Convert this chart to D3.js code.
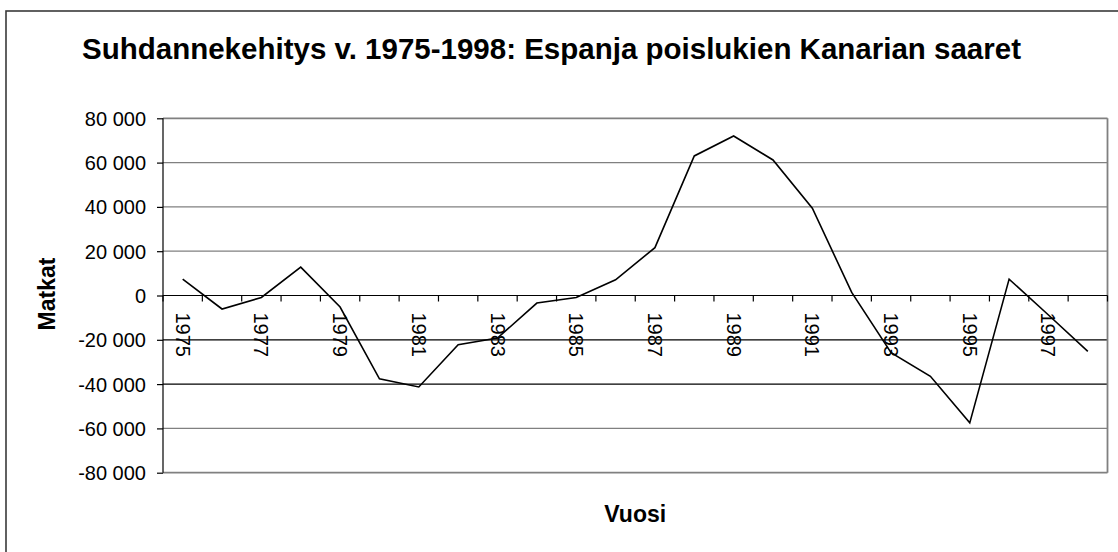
<!DOCTYPE html>
<html>
<head>
<meta charset="utf-8">
<script src="https://cdn.jsdelivr.net/npm/d3@7"></script>
<style>
  html, body { margin: 0; padding: 0; background: #fff; }
  svg { display: block; font-family: "Liberation Sans", Arial, sans-serif; }
</style>
</head>
<body>
<svg id="chart" width="1118" height="552"></svg>
<script>
const years = ["1975","1976","1977","1978","1979","1980","1981","1982","1983","1984","1985","1986",
               "1987","1988","1989","1990","1991","1992","1993","1994","1995","1996","1997","1998"];
const values = [7400, -6100, -900, 12800, -5200, -37600, -41300, -22200, -19200, -3400, -900, 7100,
                21600, 63000, 72000, 61200, 39400, 1400, -25800, -36500, -57500, 7400, -8800, -25200];
const yTicks = [80000, 60000, 40000, 20000, 0, -20000, -40000, -60000, -80000];
const titleText = "Suhdannekehitys v. 1975-1998: Espanja poislukien Kanarian saaret";
const yTitle = "Matkat";
const xTitle = "Vuosi";

const svg = d3.select("#chart");
const pL = 163, pR = 1107.5, pT = 118.3, pB = 472.7;

// outer frame
svg.append("rect").attr("x", 6).attr("y", 11).attr("width", 1140).attr("height", 580)
  .attr("fill", "none").attr("stroke", "#3a3a3a").attr("stroke-width", 1.6);

const x = d3.scaleBand().domain(years).range([pL, pR]).padding(0);
const y = d3.scaleLinear().domain([-80000, 80000]).range([pB, pT]);

const loc = d3.formatLocale({decimal: ",", thousands: " ", grouping: [3], currency: ["", ""], minus: "-"});
const fmt = loc.format(",d");

// gridlines
const dark = new Set([-20000, -40000]);
svg.append("g").selectAll("line").data(yTicks.filter(t => t !== 0)).join("line")
  .attr("x1", pL).attr("x2", pR)
  .attr("y1", d => y(d)).attr("y2", d => y(d))
  .attr("stroke", d => dark.has(d) ? "#000" : "#808080")
  .attr("stroke-width", d => (d === -80000 || d === 80000) ? 1.8 : 1.2);

// right plot border
svg.append("line").attr("x1", pR).attr("x2", pR).attr("y1", pT).attr("y2", pB)
  .attr("stroke", "#808080").attr("stroke-width", 1.8);

// y axis
const yAxis = d3.axisLeft(y).tickValues(yTicks).tickFormat(fmt).tickSize(6).tickPadding(11);
const gy = svg.append("g").attr("transform", `translate(${pL},0)`).call(yAxis);
gy.select(".domain").attr("stroke", "#000").attr("stroke-width", 1.2).attr("d", `M0,${pT}V${pB}`);
gy.selectAll(".tick line").attr("stroke", "#000").attr("stroke-width", 1.2);
gy.selectAll(".tick text").attr("font-size", 20).attr("font-family", "Liberation Sans, Arial, sans-serif")
  .attr("fill", "#000").attr("dy", "0.35em");

// x axis at zero
const y0 = y(0);
svg.append("line").attr("x1", pL).attr("x2", pR).attr("y1", y0).attr("y2", y0)
  .attr("stroke", "#000").attr("stroke-width", 1.2);
const bounds = years.map(d => x(d)).concat([x(years[years.length - 1]) + x.bandwidth()]);
svg.append("g").selectAll("line").data(bounds).join("line")
  .attr("x1", d => d).attr("x2", d => d).attr("y1", y0).attr("y2", y0 + 6)
  .attr("stroke", "#000").attr("stroke-width", 1.2);
svg.append("g").selectAll("text").data(years.filter((d, i) => i % 2 === 0)).join("text")
  .attr("transform", d => `translate(${x(d) + x.bandwidth() / 2},${y0 + 17}) rotate(90)`)
  .attr("dy", "0.35em").attr("font-size", 20).attr("fill", "#000")
  .text(d => d);

// line
const line = d3.line().x((d, i) => x(years[i]) + x.bandwidth() / 2).y(d => y(d));
svg.append("path").datum(values).attr("d", line)
  .attr("fill", "none").attr("stroke", "#000").attr("stroke-width", 1.6).attr("stroke-linejoin", "miter");

// titles
svg.append("text").attr("x", 551.5).attr("y", 59).attr("text-anchor", "middle")
  .attr("font-size", 29.5).attr("font-weight", "bold").attr("fill", "#000").text(titleText);
svg.append("text").attr("transform", `translate(55,294) rotate(-90)`).attr("text-anchor", "middle")
  .attr("font-size", 23).attr("font-weight", "bold").attr("fill", "#000").text(yTitle);
svg.append("text").attr("x", (pL + pR) / 2).attr("y", 522).attr("text-anchor", "middle")
  .attr("font-size", 23).attr("font-weight", "bold").attr("fill", "#000").text(xTitle);
</script>
</body>
</html>
